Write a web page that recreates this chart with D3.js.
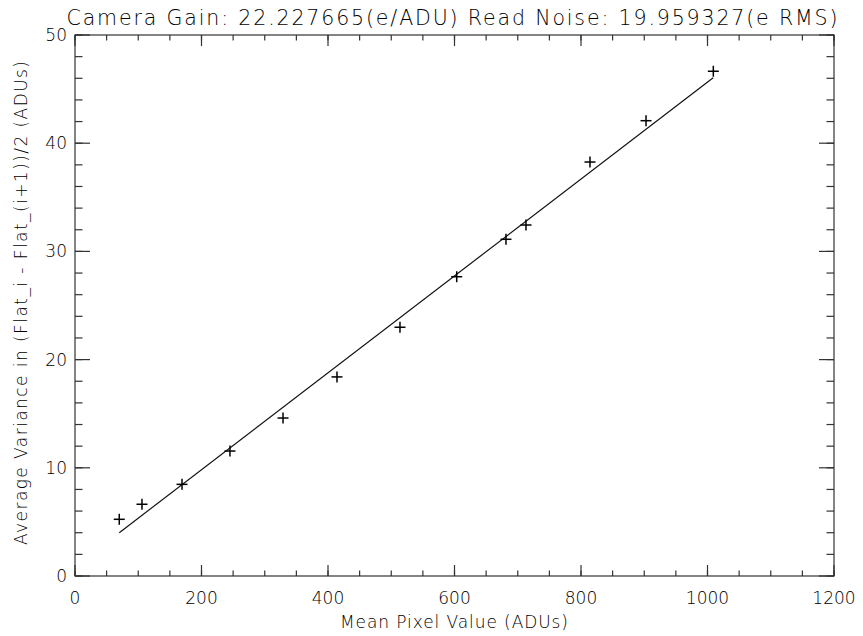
<!DOCTYPE html>
<html>
<head>
<meta charset="utf-8">
<script src="https://cdn.jsdelivr.net/npm/d3@7"></script>
<style>
  html, body { margin: 0; padding: 0; background: #fff; }
  svg { display: block; }
  text { font-family: "DejaVu Sans", sans-serif; font-weight: 200; fill: #000; }
</style>
</head>
<body>
<svg id="chart" width="863" height="636"></svg>
<script>
// ---- data ----
const meanPixel = [70.0, 105.9, 169.2, 245.0, 328.9, 414.2, 513.8, 603.5, 681.4, 713.0, 814.2, 902.8, 1009.2];
const variance  = [5.24, 6.63, 8.47, 11.55, 14.6, 18.4, 22.99, 27.66, 31.12, 32.44, 38.26, 42.08, 46.65];
const fitX = [70, 1009];
const fitY = [4.0, 46.05];
const xTicks = [0, 200, 400, 600, 800, 1000, 1200];
const yTicks = [0, 10, 20, 30, 40, 50];
const titleText = "Camera Gain: 22.227665(e/ADU) Read Noise: 19.959327(e RMS)";
const xLabel = "Mean Pixel Value (ADUs)";
const yLabel = "Average Variance in (Flat_i - Flat_(i+1))/2 (ADUs)";

// ---- layout ----
const svg = d3.select("#chart");
const L = 75, R = 834, T = 35, B = 576;
const x = d3.scaleLinear().domain([0, 1200]).range([L, R]);
const y = d3.scaleLinear().domain([0, 50]).range([B, T]);
const axisColor = "#333";

const g = svg.append("g");

// frame
g.append("rect").attr("x", L).attr("y", T).attr("width", R - L).attr("height", B - T)
  .attr("fill", "none").attr("stroke", axisColor).attr("stroke-width", 1.2);

// ticks
const xMajor = 11, xMinor = 5.5, yMajor = 15, yMinor = 7.5;
const xMinorVals = d3.range(0, 1201, 50);
const yMinorVals = d3.range(0, 50.01, 2);

function drawXTicks(vals, len) {
  vals.forEach(v => {
    g.append("line").attr("x1", x(v)).attr("x2", x(v)).attr("y1", B).attr("y2", B - len)
      .attr("stroke", axisColor).attr("stroke-width", 1.2);
    g.append("line").attr("x1", x(v)).attr("x2", x(v)).attr("y1", T).attr("y2", T + len)
      .attr("stroke", axisColor).attr("stroke-width", 1.2);
  });
}
function drawYTicks(vals, len) {
  vals.forEach(v => {
    g.append("line").attr("x1", L).attr("x2", L + len).attr("y1", y(v)).attr("y2", y(v))
      .attr("stroke", axisColor).attr("stroke-width", 1.2);
    g.append("line").attr("x1", R).attr("x2", R - len).attr("y1", y(v)).attr("y2", y(v))
      .attr("stroke", axisColor).attr("stroke-width", 1.2);
  });
}
drawXTicks(xMinorVals, xMinor);
drawXTicks(xTicks, xMajor);
drawYTicks(yMinorVals, yMinor);
drawYTicks(yTicks, yMajor);

// tick labels
g.selectAll(".xl").data(xTicks).enter().append("text")
  .attr("x", d => x(d)).attr("y", 603.5).attr("text-anchor", "middle")
  .attr("font-size", 17).text(d => d);
g.selectAll(".yl").data(yTicks).enter().append("text")
  .attr("x", 67).attr("y", d => y(d) + 6).attr("text-anchor", "end")
  .attr("font-size", 17).text(d => d);

// fit line
const line = d3.line().x(d => x(d[0])).y(d => y(d[1]));
g.append("path").datum(d3.zip(fitX, fitY)).attr("d", line)
  .attr("fill", "none").attr("stroke", "#111").attr("stroke-width", 1.2);

// markers
const pts = d3.zip(meanPixel, variance);
const s = 5.5;
pts.forEach(([a, b]) => {
  const cx = x(a), cy = y(b);
  g.append("line").attr("x1", cx - s).attr("x2", cx + s).attr("y1", cy).attr("y2", cy)
    .attr("stroke", "#000").attr("stroke-width", 1.5);
  g.append("line").attr("x1", cx).attr("x2", cx).attr("y1", cy - s).attr("y2", cy + s)
    .attr("stroke", "#000").attr("stroke-width", 1.5);
});

// titles
svg.append("text").attr("x", 452).attr("y", 25).attr("text-anchor", "middle")
  .attr("font-size", 20.5).attr("textLength", 771).attr("lengthAdjust", "spacing")
  .text(titleText);
svg.append("text").attr("x", 454).attr("y", 628).attr("text-anchor", "middle")
  .attr("font-size", 17).attr("textLength", 228).attr("lengthAdjust", "spacing")
  .text(xLabel);
svg.append("text").attr("transform", "translate(27,303) rotate(-90)").attr("text-anchor", "middle")
  .attr("font-size", 17).attr("textLength", 484).attr("lengthAdjust", "spacing")
  .text(yLabel);
</script>
</body>
</html>
